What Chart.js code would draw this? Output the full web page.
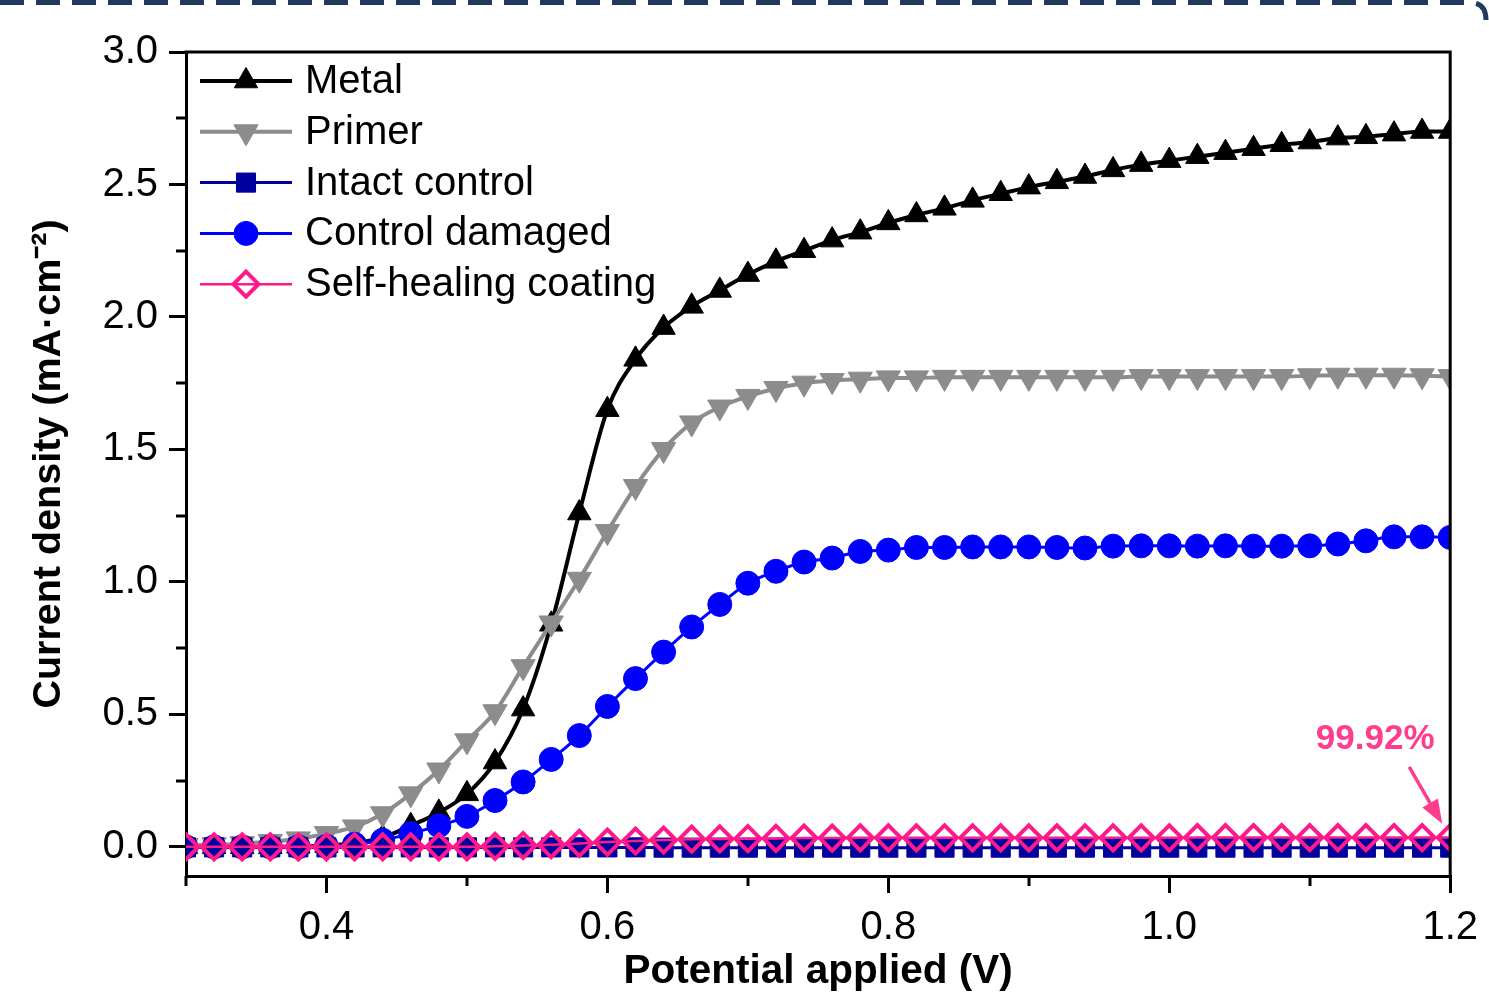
<!DOCTYPE html>
<html>
<head>
<meta charset="utf-8">
<title>Polarization curves</title>
<script src="https://cdn.jsdelivr.net/npm/chart.js@4.4.1/dist/chart.umd.min.js"></script>
<style>
  html, body { margin: 0; padding: 0; background: #fff; }
  canvas { display: block; }
</style>
</head>
<body>
<canvas id="myChart" width="1489" height="999"></canvas>
<script>
// potential applied (V)
const potential = [
  0.30, 0.32, 0.34, 0.36, 0.38, 0.40, 0.42, 0.44, 0.46, 0.48,
  0.50, 0.52, 0.54, 0.56, 0.58, 0.60, 0.62, 0.64, 0.66, 0.68,
  0.70, 0.72, 0.74, 0.76, 0.78, 0.80, 0.82, 0.84, 0.86, 0.88,
  0.90, 0.92, 0.94, 0.96, 0.98, 1.00, 1.02, 1.04, 1.06, 1.08,
  1.10, 1.12, 1.14, 1.16, 1.18, 1.20
];

// current density (mA cm-2)
const metal = [
  0.0, 0.0, 0.0, 0.0, 0.002, 0.005, 0.015, 0.035, 0.08, 0.13,
  0.20, 0.32, 0.52, 0.84, 1.26, 1.65, 1.84, 1.96, 2.04, 2.10,
  2.16, 2.21, 2.25, 2.29, 2.32, 2.355, 2.385, 2.41, 2.44, 2.465,
  2.49, 2.51, 2.53, 2.555, 2.575, 2.59, 2.605, 2.62, 2.635, 2.65,
  2.66, 2.675, 2.68, 2.69, 2.70, 2.70
];
const primer = [
  0.005, 0.008, 0.012, 0.02, 0.03, 0.05, 0.075, 0.125, 0.20, 0.29,
  0.40, 0.51, 0.68, 0.845, 1.01, 1.19, 1.36, 1.50, 1.60, 1.66,
  1.70, 1.73, 1.75, 1.76, 1.765, 1.77, 1.77, 1.772, 1.772, 1.772,
  1.772, 1.772, 1.772, 1.772, 1.775, 1.775, 1.775, 1.775, 1.775, 1.775,
  1.778, 1.78, 1.78, 1.78, 1.778, 1.775
];
const intactControl = [
  -0.002, -0.002, -0.002, -0.002, -0.002, -0.002, -0.002, -0.002, -0.002, -0.002,
  -0.002, -0.002, -0.002, -0.002, -0.002, -0.002, -0.002, -0.003, -0.003, -0.003,
  -0.003, -0.003, -0.003, -0.003, -0.003, -0.003, -0.003, -0.003, -0.003, -0.003,
  -0.003, -0.003, -0.003, -0.003, -0.003, -0.003, -0.003, -0.003, -0.003, -0.003,
  -0.003, -0.003, -0.003, -0.003, -0.003, -0.003
];
const controlDamaged = [
  0.0, 0.0, 0.0, 0.0, 0.0, 0.002, 0.01, 0.025, 0.05, 0.08,
  0.115, 0.175, 0.245, 0.33, 0.42, 0.53, 0.635, 0.735, 0.83, 0.915,
  0.995, 1.04, 1.075, 1.09, 1.115, 1.12, 1.13, 1.13, 1.132, 1.132,
  1.132, 1.13, 1.128, 1.135, 1.136, 1.136, 1.135, 1.136, 1.135, 1.135,
  1.136, 1.143, 1.155, 1.17, 1.17, 1.168
];
const selfHealing = [
  0.0, 0.0, 0.0, 0.0, 0.0, 0.0, 0.0, 0.0, 0.0, 0.0,
  0.0, 0.002, 0.005, 0.008, 0.013, 0.018, 0.022, 0.026, 0.029, 0.030,
  0.031, 0.032, 0.033, 0.033, 0.034, 0.034, 0.034, 0.034, 0.034, 0.034,
  0.034, 0.034, 0.034, 0.034, 0.034, 0.034, 0.035, 0.035, 0.035, 0.035,
  0.035, 0.035, 0.035, 0.035, 0.035, 0.035
];

const seriesLabels = ["Metal", "Primer", "Intact control", "Control damaged", "Self-healing coating"];

const xTicks = [0.4, 0.6, 0.8, 1.0, 1.2];
const xMinorTicks = [0.3, 0.5, 0.7, 0.9, 1.1];
const yTicks = [0.0, 0.5, 1.0, 1.5, 2.0, 2.5, 3.0];
const yMinorTicks = [0.25, 0.75, 1.25, 1.75, 2.25, 2.75];

const efficiencyLabel = "99.92%";

const FONT = "'Liberation Sans', Arial, sans-serif";
Chart.defaults.font.family = FONT;
Chart.defaults.color = "#000";

function toPoints(ys) {
  return ys.map((y, i) => ({ x: potential[i], y: y }));
}

function series(label, ys, color, lineW, style, extra) {
  return Object.assign({
    label: label,
    data: toPoints(ys),
    borderColor: color,
    backgroundColor: color,
    borderWidth: lineW,
    pointStyle: style,
    pointBackgroundColor: color,
    pointBorderColor: color,
    pointBorderWidth: 1,
    pointHoverRadius: 0,
    cubicInterpolationMode: "monotone",
    clip: 0,
  }, extra);
}

// extra drawing: frame, minor ticks, legend, arrow label, dashed border
const decorations = {
  id: "decorations",
  afterDraw(chart) {
    const { ctx, chartArea, scales } = chart;
    const x = scales.x, y = scales.y;
    ctx.save();

    // top and right frame lines
    ctx.strokeStyle = "#000";
    ctx.lineWidth = 3;
    ctx.beginPath();
    ctx.moveTo(chartArea.left - 1.5, chartArea.top);
    ctx.lineTo(chartArea.right, chartArea.top);
    ctx.lineTo(chartArea.right, chartArea.bottom + 1.5);
    ctx.stroke();

    // minor ticks
    ctx.beginPath();
    xMinorTicks.forEach((v) => {
      const px = Math.round(x.getPixelForValue(v));
      ctx.moveTo(px, chartArea.bottom);
      ctx.lineTo(px, chartArea.bottom + 10);
    });
    yMinorTicks.forEach((v) => {
      const py = Math.round(y.getPixelForValue(v));
      ctx.moveTo(chartArea.left, py);
      ctx.lineTo(chartArea.left - 10, py);
    });
    ctx.stroke();

    // legend
    const lx0 = chartArea.left + 14;
    const lx1 = chartArea.left + 106;
    const mx = (lx0 + lx1) / 2;
    chart.data.datasets.forEach((ds, i) => {
      const ly = chartArea.top + 29 + i * 50.8;
      ctx.strokeStyle = ds.borderColor;
      ctx.lineWidth = ds.borderWidth;
      ctx.beginPath();
      ctx.moveTo(lx0, ly);
      ctx.lineTo(lx1, ly);
      ctx.stroke();
      ctx.fillStyle = ds.pointBackgroundColor;
      ctx.strokeStyle = ds.pointBorderColor;
      ctx.lineWidth = ds.pointBorderWidth;
      Chart.helpers.drawPoint(ctx, {
        pointStyle: ds.pointStyle,
        rotation: ds.pointRotation || 0,
        radius: ds.pointRadius,
        borderWidth: ds.pointBorderWidth,
      }, mx, ly);
      ctx.fillStyle = "#000";
      ctx.font = "40px " + FONT;
      ctx.textAlign = "left";
      ctx.textBaseline = "middle";
      ctx.fillText(ds.label, chartArea.left + 119, ly + 1);
    });

    // efficiency label with arrow
    ctx.fillStyle = "#ff3d8e";
    ctx.strokeStyle = "#ff3d8e";
    ctx.font = "bold 35px " + FONT;
    ctx.textAlign = "center";
    ctx.textBaseline = "middle";
    ctx.fillText(efficiencyLabel, x.getPixelForValue(1.1466), y.getPixelForValue(0.404));
    const ax0 = x.getPixelForValue(1.1708), ay0 = y.getPixelForValue(0.302);
    const ax1 = x.getPixelForValue(1.1943), ay1 = y.getPixelForValue(0.087);
    const ang = Math.atan2(ay1 - ay0, ax1 - ax0);
    const headLen = 24, headHalf = 9;
    const bx = ax1 - headLen * Math.cos(ang), by = ay1 - headLen * Math.sin(ang);
    ctx.lineWidth = 3.5;
    ctx.beginPath();
    ctx.moveTo(ax0, ay0);
    ctx.lineTo(bx, by);
    ctx.stroke();
    ctx.beginPath();
    ctx.moveTo(ax1, ay1);
    ctx.lineTo(bx + headHalf * Math.sin(ang), by - headHalf * Math.cos(ang));
    ctx.lineTo(bx - headHalf * Math.sin(ang), by + headHalf * Math.cos(ang));
    ctx.closePath();
    ctx.fill();

    // dashed page border at the top
    ctx.strokeStyle = "#1f3a5c";
    ctx.lineWidth = 5;
    ctx.setLineDash([24, 12]);
    ctx.beginPath();
    ctx.moveTo(0, 2.5);
    ctx.lineTo(1470, 2.5);
    ctx.quadraticCurveTo(1486, 2.5, 1486, 20);
    ctx.stroke();

    ctx.restore();
  },
};

const ctx = document.getElementById("myChart").getContext("2d");

const myChart = new Chart(ctx, {
  type: "line",
  data: {
    datasets: [
      series(seriesLabels[0], metal, "#000000", 4, "triangle", { pointRadius: 13.5, order: 5 }),
      series(seriesLabels[1], primer, "#8c8c8c", 4, "triangle", { pointRadius: 14, pointRotation: 180, order: 4 }),
      series(seriesLabels[2], intactControl, "#00009c", 3, "rect", { pointRadius: 13.5, order: 2 }),
      series(seriesLabels[3], controlDamaged, "#0000ff", 3, "circle", { pointRadius: 12, order: 3 }),
      series(seriesLabels[4], selfHealing, "#ff1a8c", 2.5, "rectRot", {
        pointRadius: 12.5,
        pointBackgroundColor: "rgba(0,0,0,0)",
        pointBorderWidth: 4,
        order: 1,
      }),
    ],
  },
  options: {
    responsive: false,
    devicePixelRatio: 1,
    animation: false,
    layout: { padding: { top: 52, right: 38, left: 0, bottom: 0 } },
    plugins: {
      legend: { display: false },
      tooltip: { enabled: false },
    },
    scales: {
      x: {
        type: "linear",
        min: 0.3,
        max: 1.2,
        afterBuildTicks: (scale) => {
          scale.ticks = xTicks.map((v) => ({ value: v }));
        },
        afterFit: (scale) => {
          scale.height = 123;
        },
        ticks: {
          font: { size: 40 },
          padding: 11,
          maxRotation: 0,
          callback: (v) => Number(v).toFixed(1),
        },
        grid: {
          drawOnChartArea: false,
          drawTicks: true,
          tickLength: 17,
          lineWidth: 3,
          color: "#000",
        },
        border: { display: true, width: 3, color: "#000" },
        title: {
          display: true,
          text: "Potential applied (V)",
          font: { size: 40.5, weight: "bold" },
          padding: { top: 0, bottom: 3 },
        },
      },
      y: {
        type: "linear",
        min: -0.11,
        max: 3.0,
        afterBuildTicks: (scale) => {
          scale.ticks = yTicks.map((v) => ({ value: v }));
        },
        afterFit: (scale) => {
          scale.width = 186;
        },
        ticks: {
          font: { size: 40 },
          padding: 11,
          callback: (v) => Number(v).toFixed(1),
        },
        grid: {
          drawOnChartArea: false,
          drawTicks: true,
          tickLength: 17,
          lineWidth: 3,
          color: "#000",
        },
        border: { display: true, width: 3, color: "#000" },
        title: {
          display: true,
          text: "Current density (mA\u00B7cm\u207B\u00B2)",
          font: { size: 39.5, weight: "bold" },
          padding: { top: 25, bottom: 0 },
        },
      },
    },
  },
  plugins: [decorations],
});
</script>
</body>
</html>
